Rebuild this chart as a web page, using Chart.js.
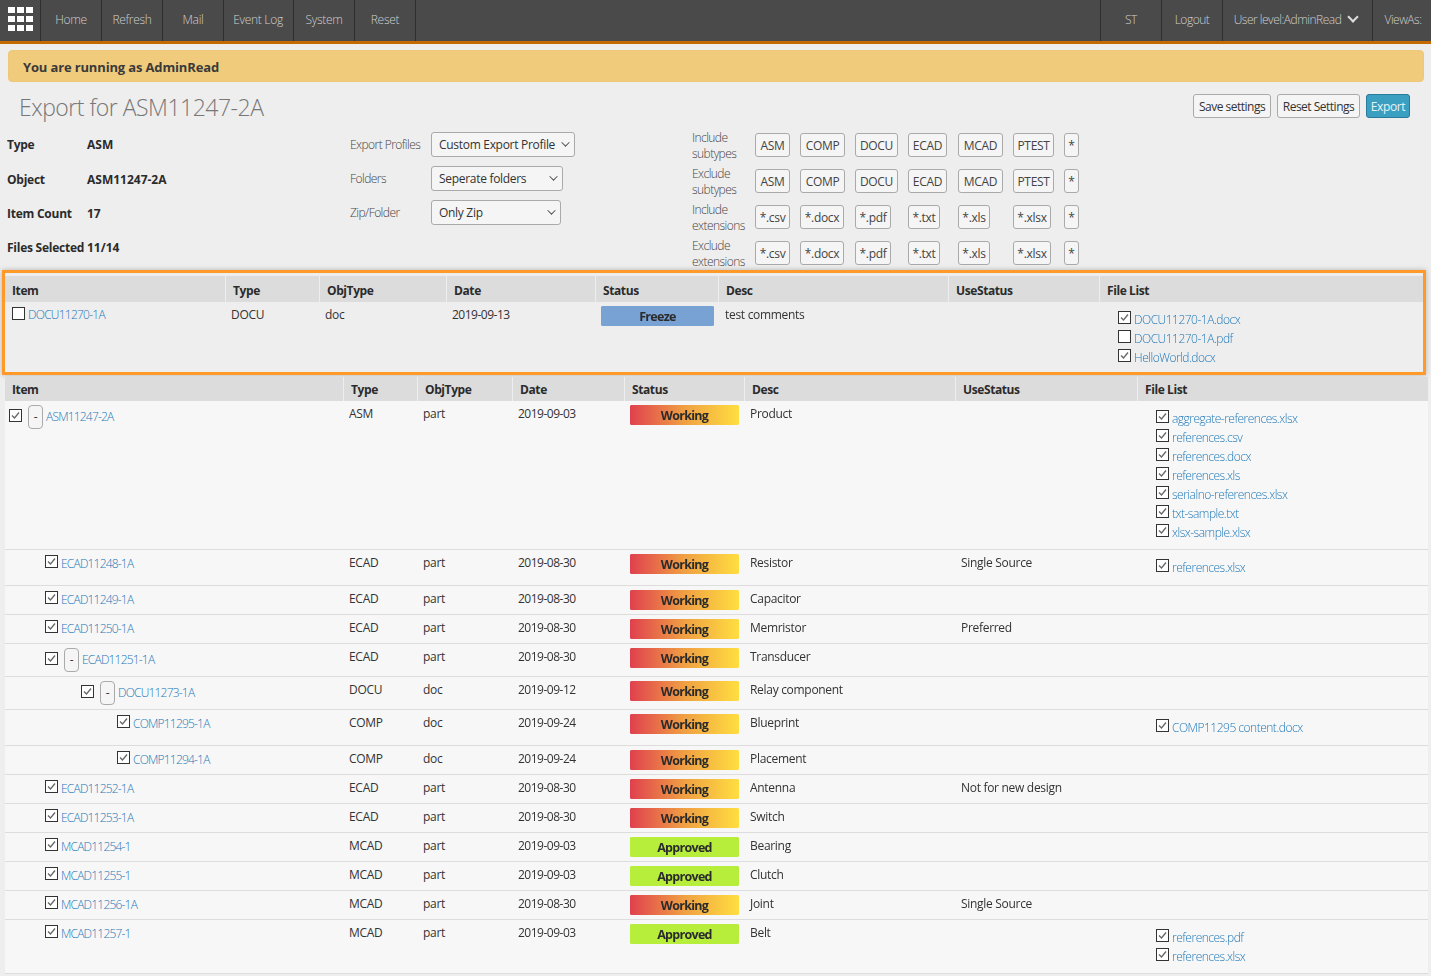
<!DOCTYPE html>
<html>
<head>
<meta charset="utf-8">
<title>Export for ASM11247-2A</title>
<script src="https://cdn.jsdelivr.net/npm/chart.js@4"></script>
<style>
  html, body { margin: 0; padding: 0; }
  body { width: 1431px; height: 976px; overflow: hidden; position: relative; background: #eee;
         font-family: "Open Sans", sans-serif; font-size: 12px; color: #333; letter-spacing: -0.3px; }
  .t { position: absolute; white-space: nowrap; transform: translateY(-50%); line-height: 1.2; }
  .r { position: absolute; box-sizing: border-box; }
  .nav { color: #cfcfcf; font-weight: 300; transform: translate(-50%, -50%); }
  .b { font-weight: 700; color: #2b2b2b; }
  .h { font-weight: 700; color: #2b2b2b; font-size: 12px; letter-spacing: -0.4px; }
  .lbl { font-weight: 300; color: #444; letter-spacing: -0.55px; }
  .a { color: #1f78b8; font-weight: 300; letter-spacing: -0.5px; }
  .c { text-align: center; transform: translate(-50%, -50%); }
  .btn { background: #f5f5f5; border: 1px solid #aaa; border-radius: 3px; }
  canvas { position: absolute; display: block; }
</style>
</head>
<body>
<script>
// table data
const items = ['ASM11247-2A', 'ECAD11248-1A', 'ECAD11249-1A', 'ECAD11250-1A', 'ECAD11251-1A', 'DOCU11273-1A', 'COMP11295-1A',
  'COMP11294-1A', 'ECAD11252-1A', 'ECAD11253-1A', 'MCAD11254-1', 'MCAD11255-1', 'MCAD11256-1A', 'MCAD11257-1'];
const types = ['ASM', 'ECAD', 'ECAD', 'ECAD', 'ECAD', 'DOCU', 'COMP', 'COMP', 'ECAD', 'ECAD', 'MCAD', 'MCAD', 'MCAD', 'MCAD'];
const objTypes = ['part', 'part', 'part', 'part', 'part', 'doc', 'doc', 'doc', 'part', 'part', 'part', 'part', 'part', 'part'];
const dates = ['2019-09-03', '2019-08-30', '2019-08-30', '2019-08-30', '2019-08-30', '2019-09-12', '2019-09-24',
  '2019-09-24', '2019-08-30', '2019-08-30', '2019-09-03', '2019-09-03', '2019-08-30', '2019-09-03'];
const statuses = ['Working', 'Working', 'Working', 'Working', 'Working', 'Working', 'Working',
  'Working', 'Working', 'Working', 'Approved', 'Approved', 'Working', 'Approved'];
const statusValues = [1, 1, 1, 1, 1, 1, 1, 1, 1, 1, 1, 1, 1, 1];
const descs = ['Product', 'Resistor', 'Capacitor', 'Memristor', 'Transducer', 'Relay component', 'Blueprint',
  'Placement', 'Antenna', 'Switch', 'Bearing', 'Clutch', 'Joint', 'Belt'];
const useStatus = ['', 'Single Source', '', 'Preferred', '', '', '', '', 'Not for new design', '', '', '', 'Single Source', ''];
const fileLists = [
  ['aggregate-references.xlsx', 'references.csv', 'references.docx', 'references.xls', 'serialno-references.xlsx', 'txt-sample.txt', 'xlsx-sample.xlsx'],
  ['references.xlsx'], [], [], [], [], ['COMP11295 content.docx'], [], [], [], [], [], [], ['references.pdf', 'references.xlsx']
];

const freezeItem = 'DOCU11270-1A';
const freezeType = 'DOCU';
const freezeObjType = 'doc';
const freezeDate = '2019-09-13';
const freezeStatus = 'Freeze';
const freezeValue = 1;
const freezeDesc = 'test comments';
const freezeFiles = ['DOCU11270-1A.docx', 'DOCU11270-1A.pdf', 'HelloWorld.docx'];
const freezeFileChecks = [true, false, true];

const navLeft = ['Home', 'Refresh', 'Mail', 'Event Log', 'System', 'Reset'];
const navRight = ['ST', 'Logout', 'User level:AdminRead', 'ViewAs:'];
const headers = ['Item', 'Type', 'ObjType', 'Date', 'Status', 'Desc', 'UseStatus', 'File List'];
const subtypes = ['ASM', 'COMP', 'DOCU', 'ECAD', 'MCAD', 'PTEST', '*'];
const extensions = ['*.csv', '*.docx', '*.pdf', '*.txt', '*.xls', '*.xlsx', '*'];

// layout, kept apart from the data
const rowTops = [401, 550, 586, 615, 644, 677, 710, 746, 775, 804, 833, 862, 891, 920];
const levels = [0, 1, 1, 1, 1, 2, 3, 3, 1, 1, 1, 1, 1, 1];
const hasToggle = [true, false, false, false, true, true, false, false, false, false, false, false, false, false];

const statusFill = { Approved: '#b6ee3b', Freeze: '#78a1d4' };

function el(cls, x, y, text, css) {
  const d = document.createElement('div');
  d.className = cls;
  d.style.left = x + 'px';
  d.style.top = y + 'px';
  if (text !== undefined) d.textContent = text;
  if (css) Object.assign(d.style, css);
  document.body.appendChild(d);
  return d;
}
const rect = (x, y, w, h, css) => el('r', x, y, undefined, Object.assign({ width: w + 'px', height: h + 'px' }, css));

function checkbox(x, y, on) {
  const d = rect(x, y, 13, 13, { background: '#fff', border: '1px solid #333' });
  if (on) d.innerHTML = '<svg width="11" height="11" style="display:block"><polyline points="2,5.5 4.5,8 9,2.5" fill="none" stroke="#666" stroke-width="1.3"/></svg>';
}

function toggle(x, y) {
  el('r btn', x, y, undefined, { width: '15px', height: '24px', borderRadius: '4px' });
  el('t c', x + 7.5, y + 12, '-');
}

// each status pill is a one bar Chart.js chart filling its own canvas
function statusPill(x, y, w, label, value) {
  const canvas = document.createElement('canvas');
  canvas.width = w;
  canvas.height = 20;
  canvas.style.left = x + 'px';
  canvas.style.top = y + 'px';
  document.body.appendChild(canvas);
  new Chart(canvas, {
    type: 'bar',
    data: {
      labels: [label],
      datasets: [{
        data: [value],
        backgroundColor: ctx => {
          if (statusFill[label]) return statusFill[label];
          const g = ctx.chart.ctx.createLinearGradient(0, 0, w, 0);
          g.addColorStop(0, '#e0404e');
          g.addColorStop(0.5, '#f0a043');
          g.addColorStop(1, '#ffde40');
          return g;
        },
        borderRadius: 3,
        borderSkipped: false,
        barPercentage: 1,
        categoryPercentage: 1
      }]
    },
    options: {
      indexAxis: 'y',
      responsive: false,
      animation: false,
      layout: { padding: 0 },
      plugins: { legend: { display: false }, tooltip: { enabled: false } },
      scales: { x: { display: false, min: 0, max: 1 }, y: { display: false } }
    }
  });
  el('t c b', x + w / 2, y + 10, label, { fontSize: '12.5px', letterSpacing: '-0.7px' });
}

// top bar
rect(0, 0, 1431, 41, { background: '#4a4a4a' });
rect(0, 41, 1431, 3, { background: '#c46a00' });
for (let r = 0; r < 3; r++) {
  for (let c = 0; c < 3; c++) rect(8 + c * 9, 7 + r * 9, 7, 6, { background: '#fff' });
}
[40, 101, 162, 223, 293, 354, 415, 1100, 1161, 1222, 1372].forEach(x => rect(x, 0, 1, 41, { background: '#2f2f2f' }));
[71, 132, 193, 258, 324, 385].forEach((x, i) => el('t nav', x, 20, navLeft[i]));
[1131, 1192, 1287.5, 1403].forEach((x, i) => el('t nav', x, 20, navRight[i], { letterSpacing: '-0.5px' }));
rect(1349, 13, 8, 8, { borderRight: '2px solid #ddd', borderBottom: '2px solid #ddd', transform: 'rotate(45deg)' });

// banner and title
rect(8, 50, 1416, 32, { background: '#f0cb7c', border: '1px solid #eec777', borderRadius: '4px' });
el('t b', 23, 67.5, 'You are running as AdminRead', { fontSize: '13px', color: '#3a3a3a', letterSpacing: '-0.15px' });
el('t', 19, 108, 'Export for ASM11247-2A', { fontSize: '23px', fontWeight: 300, color: '#777', letterSpacing: '-0.5px' });

el('r btn', 1193, 94, undefined, { width: '78px', height: '24px' });
el('t c', 1232, 107, 'Save settings', { letterSpacing: '-0.5px' });
el('r btn', 1277, 94, undefined, { width: '83px', height: '24px' });
el('t c', 1318.5, 107, 'Reset Settings', { letterSpacing: '-0.5px' });
rect(1366, 94, 44, 24, { background: '#3a9fc0', border: '1px solid #2a7a9a', borderRadius: '3px' });
el('t c', 1388, 107, 'Export', { color: '#e8f4f8', letterSpacing: '-0.4px' });

// object summary
const infoRows = [['Type', 'ASM', 145], ['Object', 'ASM11247-2A', 180], ['Item Count', '17', 214], ['Files Selected', '11/14', 248]];
infoRows.forEach(r => {
  el('t b', 7, r[2], r[0], { letterSpacing: '-0.25px' });
  el('t b', 87, r[2], r[1], { letterSpacing: '0' });
});

// selects
const selects = [['Export Profiles', 'Custom Export Profile', 132, 144], ['Folders', 'Seperate folders', 166, 132], ['Zip/Folder', 'Only Zip', 200, 130]];
selects.forEach(s => {
  el('t lbl', 350, s[2] + 13, s[0]);
  el('r btn', 431, s[2], undefined, { width: s[3] + 'px', height: '25px' });
  el('t', 439, s[2] + 13, s[1]);
  rect(431 + s[3] - 13, s[2] + 7, 7, 7, { borderRight: '1.5px solid #444', borderBottom: '1.5px solid #444', transform: 'rotate(45deg) scale(.85)' });
});

// filter buttons
const tagX = [755, 800, 855, 908, 958, 1013, 1064];
const subtypeW = [35, 45, 43, 39, 45, 41, 15];
const extW = [35, 44, 36, 32, 32, 38, 15];
const tagRows = [
  ['Include', 'subtypes', 133, subtypes, subtypeW],
  ['Exclude', 'subtypes', 169, subtypes, subtypeW],
  ['Include', 'extensions', 205, extensions, extW],
  ['Exclude', 'extensions', 241, extensions, extW]
];
tagRows.forEach(row => {
  el('t lbl', 692, row[2] + 5, row[0]);
  el('t lbl', 692, row[2] + 21, row[1]);
  row[3].forEach((tag, i) => {
    el('r btn', tagX[i], row[2], undefined, { width: row[4][i] + 'px', height: '24px' });
    el('t c', tagX[i] + row[4][i] / 2, row[2] + 13, tag, { color: '#444' });
  });
});

// frozen item table
rect(2, 270, 1424, 105, { background: '#eee', border: '3px solid #ff9a2a', boxShadow: '0 0 5px rgba(0,0,0,.25)' });
rect(5, 276, 1418, 26, { background: '#dcdcdc' });
[225, 319, 446, 595, 718, 948, 1099].forEach(x => rect(x, 276, 1, 26, { background: '#eee' }));
[12, 233, 327, 454, 603, 726, 956, 1107].forEach((x, i) => el('t h', x, 291, headers[i]));
checkbox(12, 307, false);
el('t a', 28, 315, freezeItem, { letterSpacing: '-0.75px' });
el('t', 231, 315, freezeType);
el('t', 325, 315, freezeObjType);
el('t', 452, 315, freezeDate, { letterSpacing: '-0.5px' });
statusPill(601, 306, 113, freezeStatus, freezeValue);
el('t', 725, 315, freezeDesc);
freezeFiles.forEach((f, i) => {
  checkbox(1118, 311 + i * 19, freezeFileChecks[i]);
  el('t a', 1134, 320 + i * 19, f);
});

// main table
rect(5, 377, 1423, 24, { background: '#dcdcdc' });
rect(5, 401, 1423, 573, { background: '#f7f7f7', borderBottom: '1px solid #ddd' });
[343, 417, 512, 624, 744, 955, 1137].forEach(x => rect(x, 377, 1, 24, { background: '#eee' }));
[12, 351, 425, 520, 632, 752, 963, 1145].forEach((x, i) => el('t h', x, 390, headers[i]));

items.forEach((item, i) => {
  const top = rowTops[i];
  if (i > 0) rect(5, top - 1, 1423, 1, { background: '#ddd' });
  const boxX = 9 + levels[i] * 36;
  checkbox(boxX, top + (hasToggle[i] ? 8 : 5), true);
  let linkX = boxX + 16;
  if (hasToggle[i]) {
    toggle(boxX + 19, top + 4);
    linkX = boxX + 37;
  }
  el('t a', linkX, top + (hasToggle[i] ? 16 : 14), item, { letterSpacing: '-0.8px' });
  el('t', 349, top + 13, types[i]);
  el('t', 423, top + 13, objTypes[i]);
  el('t', 518, top + 13, dates[i], { letterSpacing: '-0.5px' });
  statusPill(630, top + 4, 109, statuses[i], statusValues[i]);
  el('t', 750, top + 13, descs[i]);
  el('t', 961, top + 13, useStatus[i]);
  fileLists[i].forEach((f, k) => {
    checkbox(1156, top + 9 + k * 19, true);
    el('t a', 1172, top + 18 + k * 19, f);
  });
});
</script>
</body>
</html>
